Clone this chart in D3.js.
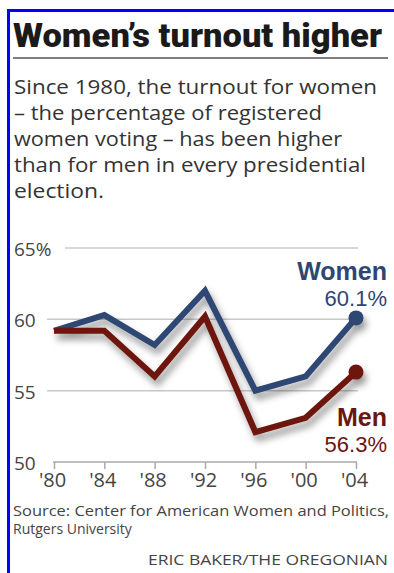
<!DOCTYPE html>
<html lang="en">
<head>
    <meta charset="UTF-8">
    <title>Women's turnout higher</title>
    <script src="https://d3js.org/d3.v7.min.js"></script>
    <style>
        body {
            margin: 0;
            padding: 0;
            background-color: white;
        }
        #chart {
            width: 394px;
            height: 573px;
        }
    </style>
</head>
<body>
    <div id="chart"></div>
    <script>
        const width = 394;
        const height = 573;

        // data
        const years = [1980, 1984, 1988, 1992, 1996, 2000, 2004];
        const tickLabels = ["'80", "'84", "'88", "'92", "'96", "'00", "'04"];
        const women = [59.2, 60.3, 58.2, 62.0, 55.0, 56.0, 60.1];
        const men = [59.2, 59.2, 56.0, 60.2, 52.1, 53.1, 56.3];
        const yTicks = [50, 55, 60, 65];

        const title = "Women\u2019s turnout higher";
        const intro = [
            "Since 1980, the turnout for women",
            "\u2013 the percentage of registered",
            "women voting \u2013 has been higher",
            "than for men in every presidential",
            "election."
        ];
        const introWidths = [363, 308, 328, 352, 90];
        const source = ["Source: Center for American Women and Politics,", "Rutgers University"];
        const credit = "ERIC BAKER/THE OREGONIAN";

        const navy = "#2f4673";
        const maroon = "#6d1510";
        const ink = "#333";

        const svg = d3.select("#chart")
            .append("svg")
            .attr("width", width)
            .attr("height", height)
            .style("font-family", "'Open Sans', 'Noto Sans', sans-serif");

        const defs = svg.append("defs");
        const shadow = defs.append("filter")
            .attr("id", "shadow")
            .attr("x", "-20%").attr("y", "-20%")
            .attr("width", "140%").attr("height", "170%");
        shadow.append("feDropShadow")
            .attr("dx", 3).attr("dy", 6)
            .attr("stdDeviation", 3.5)
            .attr("flood-color", "#000")
            .attr("flood-opacity", 0.4);

        // blue frame on top and left
        svg.append("rect").attr("x", 7).attr("y", 9).attr("width", width - 7).attr("height", 3).attr("fill", "#0000ff");
        svg.append("rect").attr("x", 7).attr("y", 9).attr("width", 3).attr("height", height - 9).attr("fill", "#0000ff");

        // fit a text element to a given width
        function fit(sel, w) {
            sel.attr("textLength", w).attr("lengthAdjust", "spacingAndGlyphs");
        }

        svg.append("text")
            .attr("x", 13).attr("y", 47)
            .style("font-family", "Roboto, 'Open Sans', sans-serif")
            .style("font-weight", 900)
            .style("font-size", "33px")
            .attr("fill", "#1a1a1a")
            .text(title)
            .call(fit, 369);

        svg.append("line")
            .attr("x1", 13).attr("x2", 388)
            .attr("y1", 58).attr("y2", 58)
            .attr("stroke", "#555").attr("stroke-width", 1.5);

        svg.append("g")
            .selectAll("text")
            .data(intro)
            .join("text")
            .attr("x", 14)
            .attr("y", (d, i) => 94 + i * 26)
            .style("font-size", "20px")
            .attr("fill", ink)
            .text(d => d)
            .each(function(d, i) { d3.select(this).call(fit, introWidths[i]); });

        // chart
        const x = d3.scaleLinear().domain([1980, 2004]).range([54, 356]);
        const y = d3.scaleLinear().domain([50, 65]).range([462, 248]);

        const grid = svg.append("g");
        grid.selectAll("line")
            .data(yTicks.filter(d => d > 50))
            .join("line")
            .attr("x1", d => d === 65 ? 65 : 47)
            .attr("x2", 358)
            .attr("y1", d => y(d)).attr("y2", d => y(d))
            .attr("stroke", "#c8c8c8").attr("stroke-width", 1.5);

        grid.selectAll("text")
            .data(yTicks)
            .join("text")
            .attr("x", 14)
            .attr("y", d => y(d) + 8)
            .style("font-size", "19px")
            .attr("fill", "#444")
            .text(d => d === 65 ? "65%" : d);

        const xAxis = d3.axisBottom(x)
            .tickValues(years)
            .tickFormat((d, i) => tickLabels[i])
            .tickSize(7)
            .tickSizeOuter(0)
            .tickPadding(4);

        const ax = svg.append("g")
            .attr("transform", `translate(0,${y(50)})`)
            .call(xAxis);
        ax.select(".domain").attr("stroke", "#aaa").attr("stroke-width", 1.5)
            .attr("d", `M${x(1980) - 1},0H${x(2004) + 1}`);
        ax.selectAll(".tick line").attr("stroke", "#aaa").attr("stroke-width", 1.5);
        ax.selectAll(".tick text")
            .attr("fill", "#444")
            .attr("dx", "-2")
            .style("font-size", "20px")
            .style("font-family", "'Open Sans', 'Noto Sans', sans-serif");

        const line = d3.line()
            .x((d, i) => x(years[i]))
            .y(d => y(d));

        const series = [
            { name: "Women", values: women, color: navy },
            { name: "Men", values: men, color: maroon }
        ];

        const lines = svg.append("g").attr("filter", "url(#shadow)");
        lines.selectAll("path")
            .data(series)
            .join("path")
            .attr("d", d => line(d.values))
            .attr("fill", "none")
            .attr("stroke", d => d.color)
            .attr("stroke-width", 6)
            .attr("stroke-linejoin", "miter");

        lines.selectAll("circle")
            .data(series)
            .join("circle")
            .attr("cx", x(2004))
            .attr("cy", d => y(d.values[d.values.length - 1]))
            .attr("r", 7.5)
            .attr("fill", d => d.color);

        // end labels
        const labelPos = { Women: [280, 306], Men: [426, 452] };
        series.forEach(s => {
            const last = s.values[s.values.length - 1];
            svg.append("text")
                .attr("x", 387).attr("y", labelPos[s.name][0])
                .attr("text-anchor", "end")
                .style("font-family", "'Liberation Sans', Arial, sans-serif")
                .style("font-weight", 700)
                .style("font-size", "25px")
                .attr("fill", s.color)
                .text(s.name);
            svg.append("text")
                .attr("x", 387).attr("y", labelPos[s.name][1])
                .attr("text-anchor", "end")
                .style("font-family", "'Liberation Sans', Arial, sans-serif")
                .style("font-size", "22px")
                .attr("fill", s.color)
                .text(d3.format(".1f")(last) + "%");
        });

        // source and credit
        svg.append("g")
            .selectAll("text")
            .data(source)
            .join("text")
            .attr("x", 13)
            .attr("y", (d, i) => 516 + i * 18)
            .style("font-size", "14px")
            .attr("fill", "#444")
            .text(d => d)
            .each(function(d, i) { if (i === 0) d3.select(this).call(fit, 376); });

        svg.append("text")
            .attr("x", 388).attr("y", 565)
            .attr("text-anchor", "end")
            .style("font-size", "14px")
            .attr("fill", "#444")
            .text(credit)
            .call(fit, 240);
    </script>
</body>
</html>
